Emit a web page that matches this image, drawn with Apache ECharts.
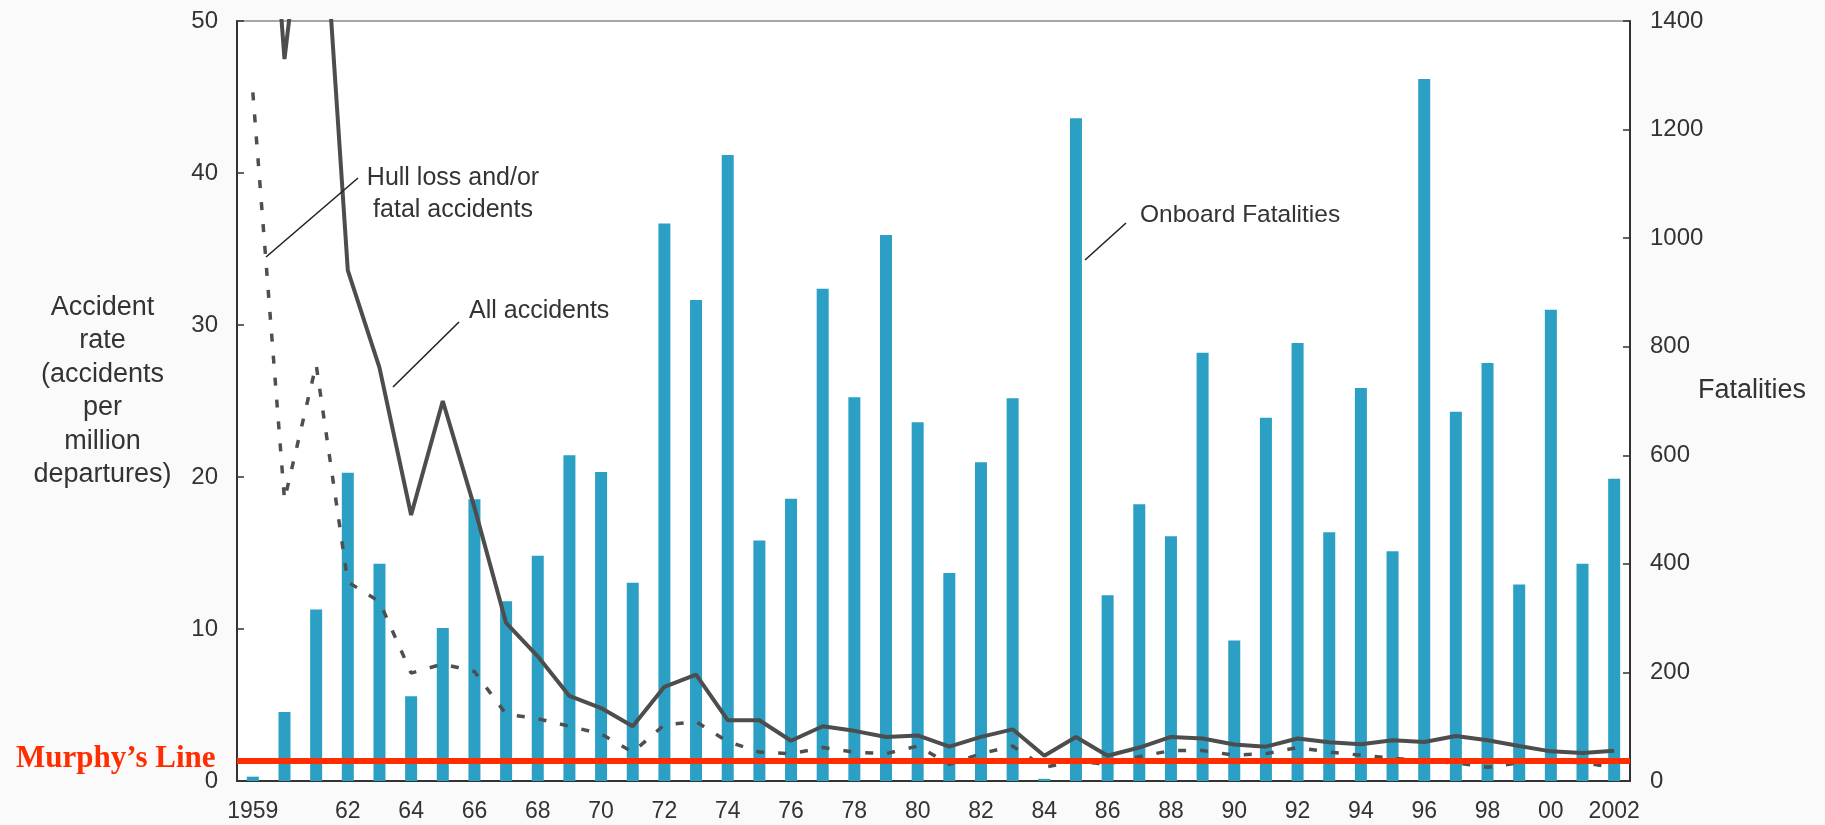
<!DOCTYPE html>
<html>
<head>
<meta charset="utf-8">
<script src="https://cdn.jsdelivr.net/npm/echarts@6/dist/echarts.min.js"></script>
<style>
  html, body { margin: 0; padding: 0; background: #fafafa; }
  #chart { width: 1825px; height: 825px; }
</style>
</head>
<body>
<div id="chart"></div>
<script>
// ---- data ----
const years = ['1959','1960','1961','1962','1963','1964','1965','1966','1967','1968','1969','1970','1971','1972','1973','1974','1975','1976','1977','1978','1979','1980','1981','1982','1983','1984','1985','1986','1987','1988','1989','1990','1991','1992','1993','1994','1995','1996','1997','1998','1999','2000','2001','2002'];
const yearLabels = ['1959','','','62','','64','','66','','68','','70','','72','','74','','76','','78','','80','','82','','84','','86','','88','','90','','92','','94','','96','','98','','00','','2002'];
// Onboard fatalities (right axis)
const fatalities = [8,127,316,568,400,156,282,519,331,415,600,569,365,1027,886,1153,443,520,907,707,1006,661,383,587,705,4,1221,342,510,451,789,259,669,807,458,724,423,1293,680,770,362,868,400,557];
// All accidents rate (left axis, accidents per million departures)
const allAccidents = [75,47.5,65,33.6,27.2,17.5,25.0,18.0,10.4,8.2,5.6,4.8,3.6,6.2,7.0,4.0,4.0,2.65,3.6,3.3,2.9,3.0,2.26,2.9,3.4,1.66,2.9,1.66,2.2,2.9,2.8,2.4,2.26,2.8,2.55,2.42,2.68,2.57,2.96,2.68,2.3,1.95,1.84,1.99];
// Hull loss and/or fatal accidents rate (left axis)
const hullLoss = [45.3,18.5,27.4,13.1,11.8,7.1,7.7,7.2,4.4,4.1,3.6,3.1,1.9,3.7,3.9,2.6,1.9,1.8,2.2,1.9,1.8,2.3,1.1,1.8,2.3,0.9,1.3,1.1,1.6,2.0,2.0,1.7,1.8,2.2,1.9,1.7,1.5,1.3,1.2,0.9,1.2,1.3,1.2,0.9];
const leftTicks = [0, 10, 20, 30, 40, 50];
const rightTicks = [0, 200, 400, 600, 800, 1000, 1200, 1400];
const murphyLevel = 1.36;

const FONT = "'Liberation Sans', Arial, Helvetica, sans-serif";
const TXT = '#333333';
const RED = '#ff2d00';

const chart = echarts.init(document.getElementById('chart'), null, { renderer: 'canvas' });

const option = {
  animation: false,
  backgroundColor: '#fafafa',
  grid: {
    left: 237, right: 195, top: 21, bottom: 44,
    show: true, backgroundColor: '#ffffff',
    borderColor: '#8a8a8a', borderWidth: 1.5
  },
  xAxis: {
    type: 'category',
    data: years,
    boundaryGap: true,
    axisLine: { lineStyle: { color: '#333', width: 2 } },
    axisTick: { inside: true, length: 6, lineStyle: { color: '#333', width: 1.5 } },
    axisLabel: {
      interval: 0, margin: 19, fontSize: 23, fontFamily: FONT, color: TXT,
      formatter: (v, i) => yearLabels[i]
    },
    splitLine: { show: false }
  },
  yAxis: [
    {
      type: 'value', min: leftTicks[0], max: leftTicks[leftTicks.length - 1], interval: 10,
      position: 'left',
      axisLine: { show: true, lineStyle: { color: '#333', width: 2 } },
      axisTick: { show: true, inside: true, length: 7, lineStyle: { color: '#333', width: 1.5 } },
      axisLabel: { margin: 19, fontSize: 24, fontFamily: FONT, color: TXT, padding: [8, 0, 0, 0],
        formatter: v => String(v) },
      splitLine: { show: false }
    },
    {
      type: 'value', min: rightTicks[0], max: rightTicks[rightTicks.length - 1], interval: 200,
      position: 'right',
      axisLine: { show: true, lineStyle: { color: '#333', width: 2 } },
      axisTick: { show: true, inside: true, length: 7, lineStyle: { color: '#333', width: 1.5 } },
      axisLabel: { margin: 20, fontSize: 24, fontFamily: FONT, color: TXT, padding: [6, 0, 0, 0],
        formatter: v => String(v) },
      splitLine: { show: false }
    }
  ],
  series: [
    {
      name: 'Onboard Fatalities', type: 'bar', yAxisIndex: 1,
      data: fatalities, barWidth: 12,
      itemStyle: { color: '#2b9fc4' }, z: 2
    },
    {
      name: 'Hull loss and/or fatal accidents', type: 'line', yAxisIndex: 0,
      data: hullLoss, symbol: 'none', clip: true,
      lineStyle: { color: '#4f4f4f', width: 3.5, type: [8, 14] }, z: 3
    },
    {
      name: 'All accidents', type: 'line', yAxisIndex: 0,
      data: allAccidents, symbol: 'none', clip: true,
      lineStyle: { color: '#4d4d4d', width: 4 }, z: 4,
      markLine: {
        silent: true, symbol: ['none', 'none'], z: 10,
        label: { show: false },
        lineStyle: { color: RED, width: 6, type: 'solid' },
        data: [{ yAxis: murphyLevel }]
      }
    }
  ],
  graphic: [
    // left axis title
    { type: 'text', x: 102.5, y: 391, z: 20,
      style: { text: 'Accident\nrate\n(accidents\nper\nmillion\ndepartures)', font: '27px ' + FONT,
        fill: TXT, align: 'center', verticalAlign: 'middle', lineHeight: 33.4 } },
    // right axis title
    { type: 'text', x: 1752, y: 391, z: 20,
      style: { text: 'Fatalities', font: '27px ' + FONT, fill: TXT, align: 'center', verticalAlign: 'middle' } },
    // annotations
    { type: 'text', x: 453, y: 194, z: 20,
      style: { text: 'Hull loss and/or\nfatal accidents', font: '25px ' + FONT, fill: TXT,
        align: 'center', verticalAlign: 'middle', lineHeight: 32 } },
    { type: 'line', z: 20, shape: { x1: 358, y1: 178, x2: 266, y2: 257 }, style: { stroke: '#222', lineWidth: 1.6 } },
    { type: 'text', x: 469, y: 311, z: 20,
      style: { text: 'All accidents', font: '25px ' + FONT, fill: TXT, align: 'left', verticalAlign: 'middle' } },
    { type: 'line', z: 20, shape: { x1: 459, y1: 322, x2: 393, y2: 387 }, style: { stroke: '#222', lineWidth: 1.6 } },
    { type: 'text', x: 1140, y: 215, z: 20,
      style: { text: 'Onboard Fatalities', font: '24.5px ' + FONT, fill: TXT, align: 'left', verticalAlign: 'middle' } },
    { type: 'line', z: 20, shape: { x1: 1126, y1: 223, x2: 1085, y2: 260 }, style: { stroke: '#222', lineWidth: 1.6 } },
    // Murphy's Line label
    { type: 'text', x: 16, y: 759, z: 20,
      style: { text: 'Murphy\u2019s Line', font: 'bold 31px "Liberation Serif", "Times New Roman", serif',
        fill: RED, align: 'left', verticalAlign: 'middle' } }
  ]
};

chart.setOption(option);
</script>
</body>
</html>
